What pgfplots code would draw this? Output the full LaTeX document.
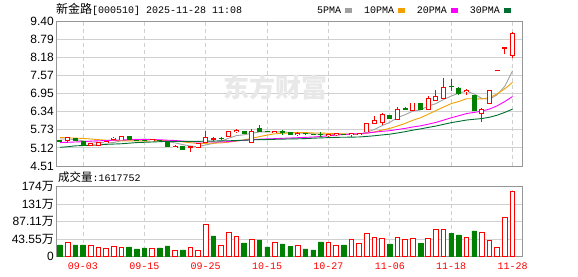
\documentclass[border=0pt]{standalone}
\usepackage{pgfplots}
\pgfplotsset{compat=1.18}
\usepackage{pgfplotstable}
\usepackage{fontspec}
\setmainfont{Liberation Sans}
\newfontfamily\cjk{Noto Sans CJK SC}
\newfontfamily\mono{Liberation Mono}
\definecolor{kred}{RGB}{255,0,0}
\definecolor{kgreen}{RGB}{0,128,0}
\definecolor{ma5}{RGB}{160,160,160}
\definecolor{ma10}{RGB}{240,160,0}
\definecolor{ma20}{RGB}{255,0,255}
\definecolor{ma30}{RGB}{0,110,50}
\definecolor{gridc}{RGB}{208,208,208}
\definecolor{framec}{RGB}{150,150,150}

% red (rising) candles: index, open, high, low, close
\pgfplotstableread{
i O H L C
1 5.37 5.50 5.30 5.46
4 5.22 5.29 5.20 5.25
5 5.22 5.30 5.20 5.29
6 5.32 5.35 5.31 5.33
7 5.42 5.48 5.40 5.44
8 5.40 5.51 5.38 5.50
12 5.37 5.40 5.35 5.38
15 5.15 5.22 5.11 5.16
17 5.14 5.14 4.99 5.14
18 5.14 5.26 5.13 5.25
19 5.33 5.69 5.32 5.47
20 5.42 5.49 5.34 5.42
22 5.53 5.68 5.50 5.65
23 5.69 5.75 5.63 5.70
25 5.33 5.75 5.30 5.67
28 5.66 5.69 5.64 5.67
31 5.58 5.64 5.52 5.59
35 5.55 5.59 5.49 5.56
36 5.57 5.61 5.53 5.58
38 5.57 5.63 5.50 5.58
39 5.59 5.61 5.58 5.60
40 5.67 5.94 5.66 5.93
41 5.95 6.20 5.91 6.03
42 5.98 6.29 5.89 6.23
44 6.08 6.51 6.06 6.40
46 6.40 6.63 6.39 6.62
48 6.43 6.88 6.42 6.76
49 6.74 7.08 6.73 6.83
50 6.81 7.49 6.80 7.13
53 7.04 7.10 6.90 7.05
55 6.29 6.46 6.00 6.39
56 6.64 7.03 6.62 7.03
57 7.73 7.73 7.73 7.73
58 8.50 8.50 8.28 8.50
59 8.25 9.02 8.14 8.95
}\redK

% green (falling) candles
\pgfplotstableread{
i O H L C
0 5.36 5.38 5.33 5.34
2 5.44 5.46 5.35 5.37
3 5.33 5.34 5.17 5.19
9 5.50 5.51 5.40 5.41
10 5.37 5.39 5.34 5.36
11 5.38 5.40 5.35 5.37
13 5.37 5.38 5.34 5.36
14 5.30 5.31 5.17 5.18
16 5.18 5.19 5.05 5.08
21 5.45 5.48 5.40 5.44
24 5.69 5.70 5.59 5.60
26 5.78 5.90 5.66 5.67
27 5.67 5.69 5.64 5.66
29 5.66 5.71 5.56 5.65
30 5.63 5.64 5.55 5.56
32 5.60 5.62 5.54 5.59
33 5.59 5.60 5.56 5.58
34 5.59 5.67 5.50 5.58
37 5.58 5.60 5.55 5.57
43 6.23 6.24 6.10 6.12
45 6.44 6.51 6.40 6.43
47 6.62 6.63 6.42 6.43
51 7.19 7.46 7.05 7.18
52 7.13 7.18 6.90 6.96
54 6.90 6.91 6.36 6.37
}\greenK

% moving averages
\pgfplotstableread{
i m5 m10 m20 m30
0 5.42 5.47 5.30 5.14
1 5.42 5.46 5.31 5.16
2 5.40 5.45 5.32 5.19
3 5.36 5.44 5.33 5.20
4 5.322 5.42 5.35 5.21
5 5.312 5.40 5.36 5.22
6 5.286 5.38 5.37 5.24
7 5.300 5.37 5.38 5.25
8 5.362 5.36 5.39 5.26
9 5.394 5.358 5.395 5.28
10 5.408 5.360 5.40 5.30
11 5.416 5.351 5.40 5.31
12 5.404 5.352 5.40 5.32
13 5.376 5.369 5.395 5.33
14 5.330 5.362 5.38 5.34
15 5.290 5.349 5.37 5.34
16 5.232 5.324 5.35 5.34
17 5.184 5.294 5.33 5.34
18 5.162 5.269 5.32 5.34
19 5.220 5.275 5.317 5.35
20 5.272 5.281 5.321 5.35
21 5.344 5.288 5.320 5.36
22 5.446 5.315 5.334 5.36
23 5.536 5.349 5.359 5.37
24 5.562 5.391 5.377 5.38
25 5.612 5.442 5.396 5.39
26 5.658 5.501 5.413 5.40
27 5.660 5.553 5.424 5.40
28 5.654 5.595 5.432 5.41
29 5.664 5.613 5.444 5.415
30 5.642 5.627 5.454 5.423
31 5.626 5.642 5.465 5.427
32 5.612 5.636 5.476 5.434
33 5.594 5.624 5.487 5.447
34 5.580 5.622 5.507 5.458
35 5.580 5.611 5.527 5.467
36 5.578 5.602 5.552 5.476
37 5.574 5.593 5.573 5.480
38 5.574 5.584 5.590 5.483
39 5.578 5.579 5.596 5.489
40 5.652 5.616 5.622 5.508
41 5.742 5.660 5.651 5.530
42 5.874 5.724 5.680 5.558
43 5.982 5.778 5.701 5.584
44 6.142 5.860 5.741 5.624
45 6.242 5.947 5.779 5.667
46 6.360 6.051 5.827 5.718
47 6.400 6.137 5.865 5.761
48 6.528 6.255 5.920 5.811
49 6.614 6.378 5.979 5.857
50 6.754 6.498 6.057 5.914
51 6.866 6.613 6.137 5.972
52 6.972 6.686 6.205 6.015
53 7.030 6.779 6.279 6.060
54 6.938 6.776 6.318 6.086
55 6.790 6.772 6.360 6.110
56 6.760 6.813 6.432 6.155
57 6.914 6.943 6.540 6.224
58 7.204 7.117 6.686 6.319
59 7.720 7.329 6.854 6.429
}\MA

% volumes (10k shares)
\pgfplotstableread{
i V
1 36.1
4 28.6
5 23.6
6 21.2
7 26.1
8 23.6
12 21.2
15 17.0
17 23.6
18 17.0
19 80.9
21 28.6
22 61.0
23 51.0
25 43.5
28 36.1
31 28.6
35 36.9
36 28.6
38 44.4
39 33.6
40 58.5
41 48.5
42 46.0
44 48.5
45 44.4
46 46.0
48 46.0
49 68.4
50 68.4
53 48.5
55 61.0
56 41.9
57 23.6
58 98.3
59 161.7752
}\redV

\pgfplotstableread{
i V
0 29.4
2 29.4
3 29.4
9 24.5
10 19.5
11 22.0
13 22.0
14 27.0
16 17.0
20 51.8
24 34.4
26 41.9
27 24.5
29 31.9
30 25.3
32 19.5
33 17.0
34 36.9
37 29.4
43 31.9
47 33.6
51 58.5
52 54.3
54 64.3
}\greenV

\pgfplotsset{
  kbase/.style={
    scale only axis, width=466pt,
    xmin=-0.52, xmax=60.23,
    xtick={3,11,19,27,35,43,51,59},
    major tick length=0pt,
    axis line style={framec, line width=0.8pt},
    xmajorgrids, ymajorgrids,
    x grid style={gridc, dash pattern=on 4pt off 3pt, line width=0.8pt},
    y grid style={gridc, line width=0.8pt},
    yticklabel style={font=\fontsize{12}{12}\selectfont, black, inner sep=2pt},
  },
  wick/.style={forget plot, draw=none, mark=none,
    error bars/.cd, y dir=plus, y explicit, error mark=none,
    error bar style={draw=#1, line width=1pt, line cap=butt}},
  body/.style 2 args={forget plot, draw=none, mark=none,
    error bars/.cd, y dir=plus, y explicit, error mark=none,
    error bar style={draw=#1, line width=#2, line cap=butt}},
}

\begin{document}
\begin{tikzpicture}
\path[use as bounding box] (0pt,0pt) rectangle (578pt,276pt);

\node[anchor=west, inner sep=0pt] at (56pt,267pt)
  {{\cjk\fontsize{12}{12}\selectfont 新金路}{\mono\fontsize{10}{10}\selectfont [000510] 2025-11-28 11:08}};

\begin{axis}[kbase, at={(56pt,110pt)}, anchor=south west, height=145pt,
  ymin=4.51, ymax=9.40,
  ytick={4.51,5.12125,5.7325,6.34375,6.955,7.56625,8.1775,8.78875,9.40},
  yticklabels={4.51,5.12,5.73,6.34,6.95,7.57,8.18,8.79,9.40},
  xticklabels={},
  legend plot pos=right,
  legend image code/.code={\fill[#1] (0pt,-2.2pt) rectangle (6pt,2.2pt);},
  legend style={draw=none, fill=none, legend columns=-1, at={(1,1)}, anchor=south east,
    xshift=-11pt, yshift=4pt, inner sep=0pt,
    font=\mono\fontsize{10}{10}\selectfont,
    /tikz/every odd column/.append style={column sep=2pt},
    /tikz/every even column/.append style={column sep=10pt}},
]
\node[text=black!9, font=\cjk\bfseries\fontsize{26}{26}\selectfont] at (rel axis cs:0.47,0.54) {东方财富};

\addplot[ma5, line width=0.9pt] table[x=i, y=m5] {\MA}; \addlegendentry{5PMA}
\addplot[ma10, line width=0.9pt] table[x=i, y=m10] {\MA}; \addlegendentry{10PMA}
\addplot[ma20, line width=0.9pt] table[x=i, y=m20] {\MA}; \addlegendentry{20PMA}
\addplot[ma30, line width=0.9pt] table[x=i, y=m30] {\MA}; \addlegendentry{30PMA}

% red candles: wick, outer body, hollow inner
\addplot[wick=kred] table[x=i, y=L, y error plus expr=\thisrow{H}-\thisrow{L}] {\redK};
\addplot[body={kred}{5pt}] table[x=i, y expr=\thisrow{O}-0.03, y error plus expr=\thisrow{C}-\thisrow{O}+0.06] {\redK};
\addplot[body={white}{3.2pt}] table[x=i, y=O, y error plus expr=\thisrow{C}-\thisrow{O}] {\redK};
% green candles
\addplot[wick=kgreen] table[x=i, y=L, y error plus expr=\thisrow{H}-\thisrow{L}] {\greenK};
\addplot[body={kgreen}{5pt}] table[x=i, y expr=\thisrow{C}-0.015, y error plus expr=\thisrow{O}-\thisrow{C}+0.03] {\greenK};
\end{axis}

\node[anchor=west, inner sep=0pt] at (58pt,99pt)
  {{\cjk\fontsize{11.5}{11.5}\selectfont 成交量}{\mono\fontsize{10}{10}\selectfont :1617752}};

\begin{axis}[kbase, at={(56pt,19.2pt)}, anchor=south west, height=70pt,
  ymin=0, ymax=174.22,
  ytick={0,43.555,87.11,130.665,174.22},
  yticklabels={0,43.55{\cjk 万},87.11{\cjk 万},131{\cjk 万},174{\cjk 万}},
  xticklabels={09-03,09-15,09-25,10-15,10-27,11-06,11-18,11-28},
  xticklabel style={kred, font=\mono\fontsize{10}{10}\selectfont, inner sep=1pt, yshift=-5pt},
]
\addplot[ybar, bar width=4.6pt, bar shift=0pt, draw=kred, fill=white, line width=0.9pt] table[x=i, y=V] {\redV};
\addplot[ybar, bar width=4.6pt, bar shift=0pt, draw=kgreen, fill=kgreen, line width=0.6pt] table[x=i, y=V] {\greenV};
\end{axis}
\end{tikzpicture}
\end{document}
